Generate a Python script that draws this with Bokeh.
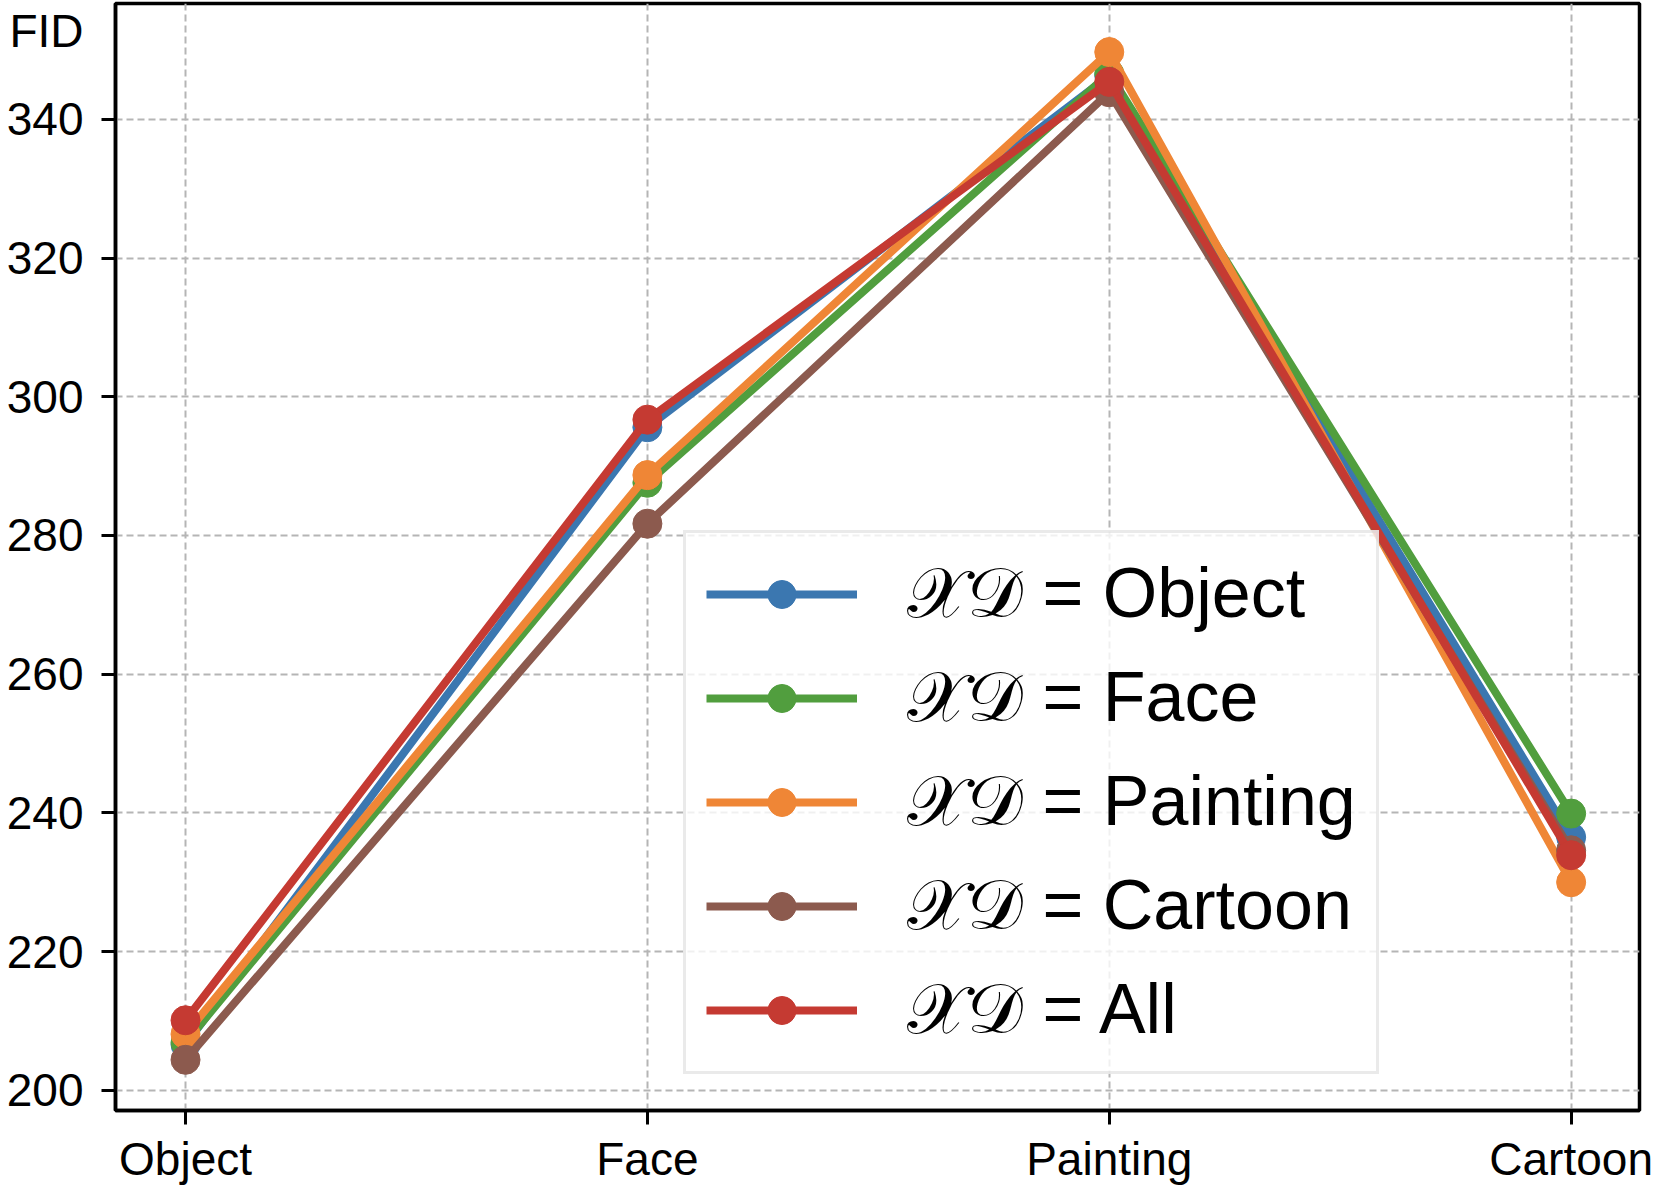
from bokeh.plotting import figure
from bokeh.models import Legend, LegendItem, FixedTicker, Range1d, LinearAxis
from bokeh.embed import file_html
from bokeh.resources import INLINE

categories = ["Object", "Face", "Painting", "Cartoon"]
series_names = ["Object", "Face", "Painting", "Cartoon", "All"]
fid_object = [206.6, 295.6, 346.3, 236.5]
fid_face = [206.9, 287.6, 346.6, 239.9]
fid_painting = [208.1, 288.7, 349.7, 230.0]
fid_cartoon = [204.4, 281.7, 343.9, 234.6]
fid_all = [210.1, 296.7, 345.4, 233.9]
y_ticks = [200, 220, 240, 260, 280, 300, 320, 340]
y_title = "FID"
y_title_at = 352.7

colors = ["#3b77b0", "#519e3e", "#ef8636", "#8c5a4e", "#c53a32"]
all_series = [fid_object, fid_face, fid_painting, fid_cartoon, fid_all]

FONT = "Liberation Sans"
xs = list(range(len(categories)))

p = figure(width=1660, height=1190, output_backend="svg", toolbar_location=None,
           x_range=Range1d(-0.1516, 3.148), y_range=Range1d(197.09, 356.7),
           min_border_left=115, min_border_right=21, min_border_top=3, min_border_bottom=80)

p.outline_line_color = "black"
p.outline_line_width = 3.5
p.background_fill_color = "white"

# x axis
xa = p.xaxis[0]
xa.axis_line_width = 3.5
xa.major_tick_line_width = 3
xa.major_tick_out = 14
xa.major_tick_in = 0
xa.minor_tick_out = 0
xa.minor_tick_in = 0
xa.major_label_text_font = FONT
xa.major_label_text_font_size = "46px"
xa.major_label_text_color = "black"
xa.ticker = FixedTicker(ticks=xs)
xa.major_label_overrides = {i: c for i, c in enumerate(categories)}
xa.major_label_standoff = 8

# inner y axis: line and tick marks only
ya = p.yaxis[0]
ya.axis_line_width = 3.5
ya.major_tick_line_width = 3
ya.major_tick_out = 14
ya.major_tick_in = 0
ya.minor_tick_out = 0
ya.minor_tick_in = 0
ya.ticker = FixedTicker(ticks=y_ticks)
ya.major_label_overrides = {t: "" for t in y_ticks}
ya.major_label_standoff = 0
ya.major_label_text_font_size = "1px"

# outer y axis: tick labels and the FID title
yb = LinearAxis(ticker=FixedTicker(ticks=y_ticks + [y_title_at]))
yb.axis_line_color = None
yb.major_tick_out = 0
yb.major_tick_in = 0
yb.minor_tick_out = 0
yb.minor_tick_in = 0
yb.major_label_overrides = {y_title_at: y_title}
yb.major_label_standoff = 18
yb.major_label_text_font = FONT
yb.major_label_text_font_size = "46px"
yb.major_label_text_color = "black"
p.add_layout(yb, "left")

for g in (p.xgrid[0], p.ygrid[0]):
    g.grid_line_color = "#b5b5b5"
    g.grid_line_dash = "7 4"
    g.grid_line_width = 2
p.xgrid.ticker = FixedTicker(ticks=xs)
p.ygrid.ticker = FixedTicker(ticks=y_ticks)

items = []
for name, vals, col in zip(series_names, all_series, colors):
    l = p.line(xs, vals, line_color=col, line_width=8)
    s = p.scatter(xs, vals, size=29, fill_color=col, line_color=col)
    items.append(LegendItem(label="\U0001D4B3\U0001D49F = " + name, renderers=[l, s]))

legend = Legend(items=items, location=(568, 36))
legend.label_text_font = FONT
legend.label_text_font_size = "70px"
legend.label_text_color = "black"
legend.glyph_width = 151
legend.glyph_height = 70
legend.label_height = 70
legend.spacing = 22
legend.label_standoff = 50
legend.padding = 20
legend.margin = 0
legend.border_line_color = "#d6d6d6"
legend.border_line_width = 3
legend.background_fill_alpha = 0.8
p.add_layout(legend, "center")

open("out.html", "w").write(file_html(p, INLINE))
